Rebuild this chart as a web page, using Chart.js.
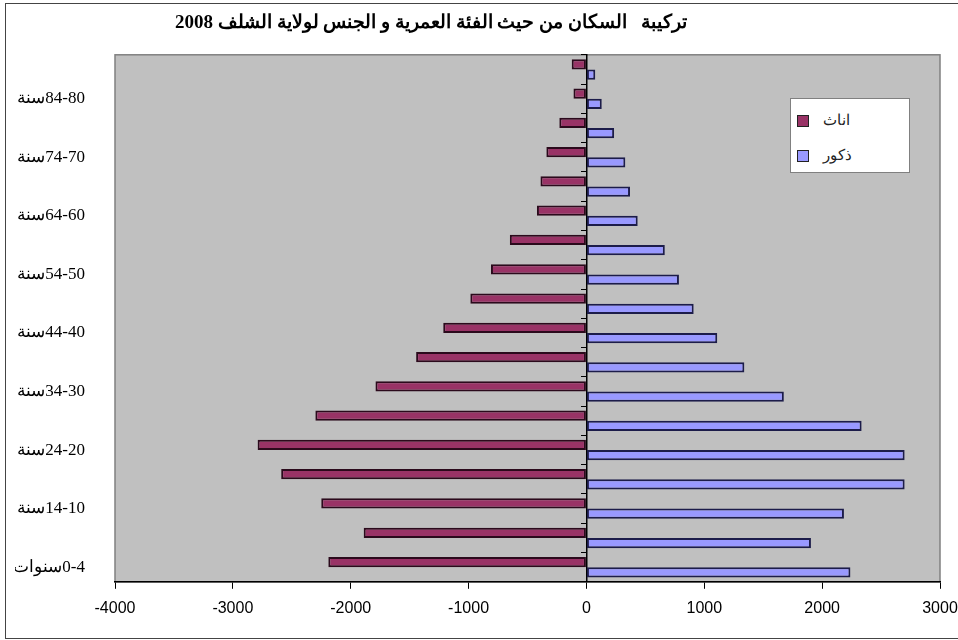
<!DOCTYPE html>
<html lang="ar">
<head>
<meta charset="utf-8">
<title>تركيبة السكان - الشلف 2008</title>
<script src="https://cdn.jsdelivr.net/npm/chart.js@4.4.1/dist/chart.umd.min.js"></script>
<style>
  body { margin: 0; background: #fff; }
  #wrap { position: relative; width: 958px; height: 640px; }
  #legend {
    position: absolute; left: 790px; top: 98px; width: 120px; height: 75px;
    box-sizing: border-box; background: #fff; border: 1px solid #808080;
    font: 15px 'Liberation Sans', sans-serif; color: #222;
  }
  #legend .row { position: absolute; left: 6px; height: 20px; line-height: 20px; white-space: nowrap; }
  #legend .box {
    display: inline-block; width: 10px; height: 10px; border: 1px solid #222;
    vertical-align: middle; margin-right: 14px;
  }
</style>
</head>
<body>
<div id="wrap">
  <canvas id="pyramid"></canvas>
  <div id="legend"></div>
</div>
<script>
// Data (youngest age group first)
// ================================================================================
let age_groups = ["0-4سنوات", "9-5سنوات", "14-10سنة", "19-15سنة", "24-20سنة", "29-25سنة",
	"34-30سنة", "39-35سنة", "44-40سنة", "49-45سنة", "54-50سنة", "59-55سنة",
	"64-60سنة", "69-65سنة", "74-70سنة", "79-75سنة", "84-80سنة", "85سنة فأكثر"];

let females = [2190, 1890, 2250, 2590, 2790, 2300, 1790, 1445, 1215, 985,
	810, 650, 420, 390, 340, 230, 110, 125];
let males = [2240, 1905, 2185, 2700, 2700, 2335, 1675, 1340, 1110, 910,
	785, 665, 435, 370, 330, 235, 130, 75];

let x_ticks = [-4000, -3000, -2000, -1000, 0, 1000, 2000, 3000];

let chart_title = "تركيبة   السكان من حيث الفئة العمرية و الجنس لولاية الشلف 2008";

// Chart
// ================================================================================
// oldest group on top, so the lists are read back to front
let labels = age_groups.slice().reverse();

let plot_area = {
	id: 'plotArea',
	afterLayout(chart) {
		// the title sits left of the chart's middle in the original
		let t = chart.titleBlock;
		if (t) t.right = t.left + 832;
	},
	beforeDraw(chart) {
		let {ctx, chartArea: a} = chart;
		ctx.save();
		ctx.fillStyle = '#fff';
		ctx.fillRect(0, 0, chart.width, chart.height);
		ctx.fillStyle = '#c0c0c0';
		ctx.fillRect(a.left, a.top, a.right - a.left, a.bottom - a.top);
		ctx.strokeStyle = '#808080';
		ctx.lineWidth = 1.5;
		ctx.strokeRect(a.left, a.top, a.right - a.left, a.bottom - a.top);
		ctx.restore();
	},
	afterDraw(chart) {
		let ctx = chart.ctx;
		ctx.save();
		ctx.strokeStyle = '#444';
		ctx.lineWidth = 1;
		ctx.strokeRect(5.5, 3.5, chart.width, chart.height - 5);
		ctx.restore();
	}
};

let pyramid = new Chart(document.getElementById('pyramid'), {
	type: 'bar',
	data: {
		labels: labels,
		datasets: [
			{
				label: 'اناث',
				data: females.slice().reverse().map(v => -v),
				backgroundColor: '#993366',
				borderColor: '#2b0a1c',
				borderWidth: 2,
				borderSkipped: false
			},
			{
				label: 'ذكور',
				data: males.slice().reverse(),
				backgroundColor: '#9999ff',
				borderColor: '#1c1c4a',
				borderWidth: 2,
				borderSkipped: false
			}
		]
	},
	options: {
		indexAxis: 'y',
		responsive: true,
		maintainAspectRatio: false,
		animation: false,
		categoryPercentage: 0.7,
		barPercentage: 1.0,
		layout: { padding: { left: 15, right: 0, top: 0, bottom: 12 } },
		plugins: {
			legend: { display: false },
			tooltip: { enabled: false },
			title: {
				display: true,
				text: chart_title,
				color: '#000',
				font: { family: "'Liberation Serif', serif", size: 19, weight: 'bold' },
				padding: { top: 12, bottom: 20 }
			}
		},
		scales: {
			x: {
				min: x_ticks[0],
				max: x_ticks[x_ticks.length - 1],
				afterBuildTicks: (scale) => { scale.ticks = x_ticks.map(v => ({value: v})); },
				afterFit: (scale) => { scale.paddingRight = 18; },
				grid: { drawOnChartArea: false, drawTicks: true, tickLength: 7, color: '#000' },
				border: { display: true, color: '#000', width: 1.5 },
				ticks: {
					color: '#000',
					padding: 10,
					font: { family: "'Liberation Sans', sans-serif", size: 16 },
					callback: (v) => String(v)
				}
			},
			y: {
				offset: true,
				grid: { display: false, offset: true },
				border: { display: false },
				afterFit: (scale) => { scale.width = 100; },
				ticks: {
					autoSkip: false,
					padding: 22,
					color: '#000',
					font: { family: "'Liberation Serif', serif", size: 17 },
					// every second group is labelled, starting from the youngest
					callback: function(v, i) {
						let from_bottom = labels.length - 1 - i;
						if (from_bottom % 2 !== 0) return '';
						return '\u202B' + labels[i] + '\u202C';
					}
				}
			},
			zero: {
				axis: 'y',
				type: 'category',
				position: { x: 0 },
				offset: true,
				grid: { drawOnChartArea: false, drawTicks: true, tickLength: 5, offset: true, color: '#000' },
				border: { display: true, color: '#000', width: 1.5 },
				ticks: { display: false }
			}
		}
	},
	plugins: [plot_area]
});

// Legend box inside the plot, built from the datasets
// ================================================================================
let legend_div = document.getElementById('legend');
pyramid.data.datasets.forEach((ds, i) => {
	let row = document.createElement('div');
	row.className = 'row';
	row.style.top = (11 + i * 35) + 'px';
	let box = document.createElement('span');
	box.className = 'box';
	box.style.background = ds.backgroundColor;
	row.appendChild(box);
	row.appendChild(document.createTextNode(ds.label));
	legend_div.appendChild(row);
});
</script>
</body>
</html>
